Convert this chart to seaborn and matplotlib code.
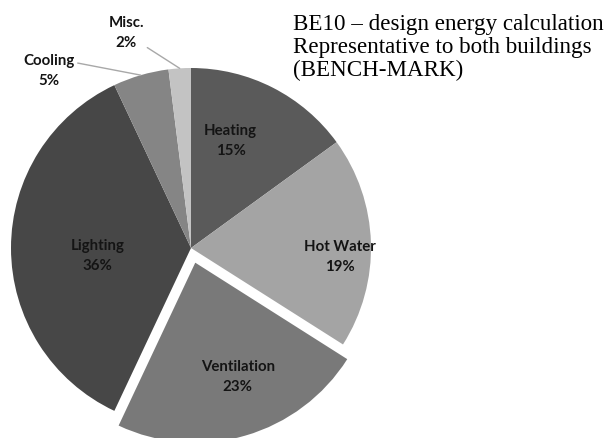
import numpy as np
import matplotlib
matplotlib.use("Agg")
import matplotlib.pyplot as plt
import seaborn as sns

categories = ["Heating", "Hot Water", "Ventilation", "Lighting", "Cooling", "Misc."]
shares = [15, 19, 23, 36, 5, 2]
greys = ["#5a5a5a", "#a4a4a4", "#797979", "#474747", "#858585", "#c3c3c3"]
explode = [0, 0, 0.085, 0, 0, 0]
title_lines = ["BE10 \u2013 design energy calculation",
               "Representative to both buildings",
               "(BENCH-MARK)"]

sns.set_style("white")
plt.rcParams["font.family"] = ["Lato", "DejaVu Sans"]

fig = plt.figure(figsize=(6.16, 4.39), dpi=100)
# pie centre at (191, 249) px, radius 180 px
R = 180
lim = 1.3
size = 2 * lim * R
ax = fig.add_axes([(191 - lim * R) / 616, (439 - 249 - lim * R) / 439,
                   size / 616, size / 439])

wedges, _ = ax.pie(shares, colors=greys, startangle=90, counterclock=False,
                   explode=explode, radius=1,
                   wedgeprops=dict(linewidth=0))
ax.set_xlim(-lim, lim)
ax.set_ylim(-lim, lim)
ax.set_aspect("equal")
ax.set_axis_off()

label_kw = dict(ha="center", va="center", fontsize=10.8, fontweight="bold",
                color="#141414", linespacing=1.5)

# labels inside the slices (layout positions in axis units)
inside_pos = {0: (0.22, 0.60), 1: (0.83, -0.045), 2: (0.26, -0.71), 3: (-0.52, -0.04)}
for i, (tx, ty) in inside_pos.items():
    ax.text(tx, ty, f"{categories[i]}\n{shares[i]}%", **label_kw)

# small slices: labels outside with leader lines
outside_pos = {4: ((-0.79, 0.99), (1.0, 0.72)), 5: ((-0.36, 1.2), (0.82, 0.22))}
for i, ((tx, ty), rel) in outside_pos.items():
    w = wedges[i]
    ang = np.deg2rad((w.theta1 + w.theta2) / 2)
    ax.annotate(f"{categories[i]}\n{shares[i]}%",
                xy=(np.cos(ang), np.sin(ang)), xytext=(tx, ty),
                annotation_clip=False,
                arrowprops=dict(arrowstyle="-", color="#a8a8a8", lw=1.0,
                                shrinkA=0, shrinkB=0, relpos=rel),
                **label_kw)

fig.text(293 / 616, 1 - 14 / 439, "\n".join(title_lines), ha="left", va="top",
         fontsize=16.6, family=["Liberation Serif", "DejaVu Serif"],
         linespacing=1.12, color="black")

fig.savefig("out.png", dpi=100)
